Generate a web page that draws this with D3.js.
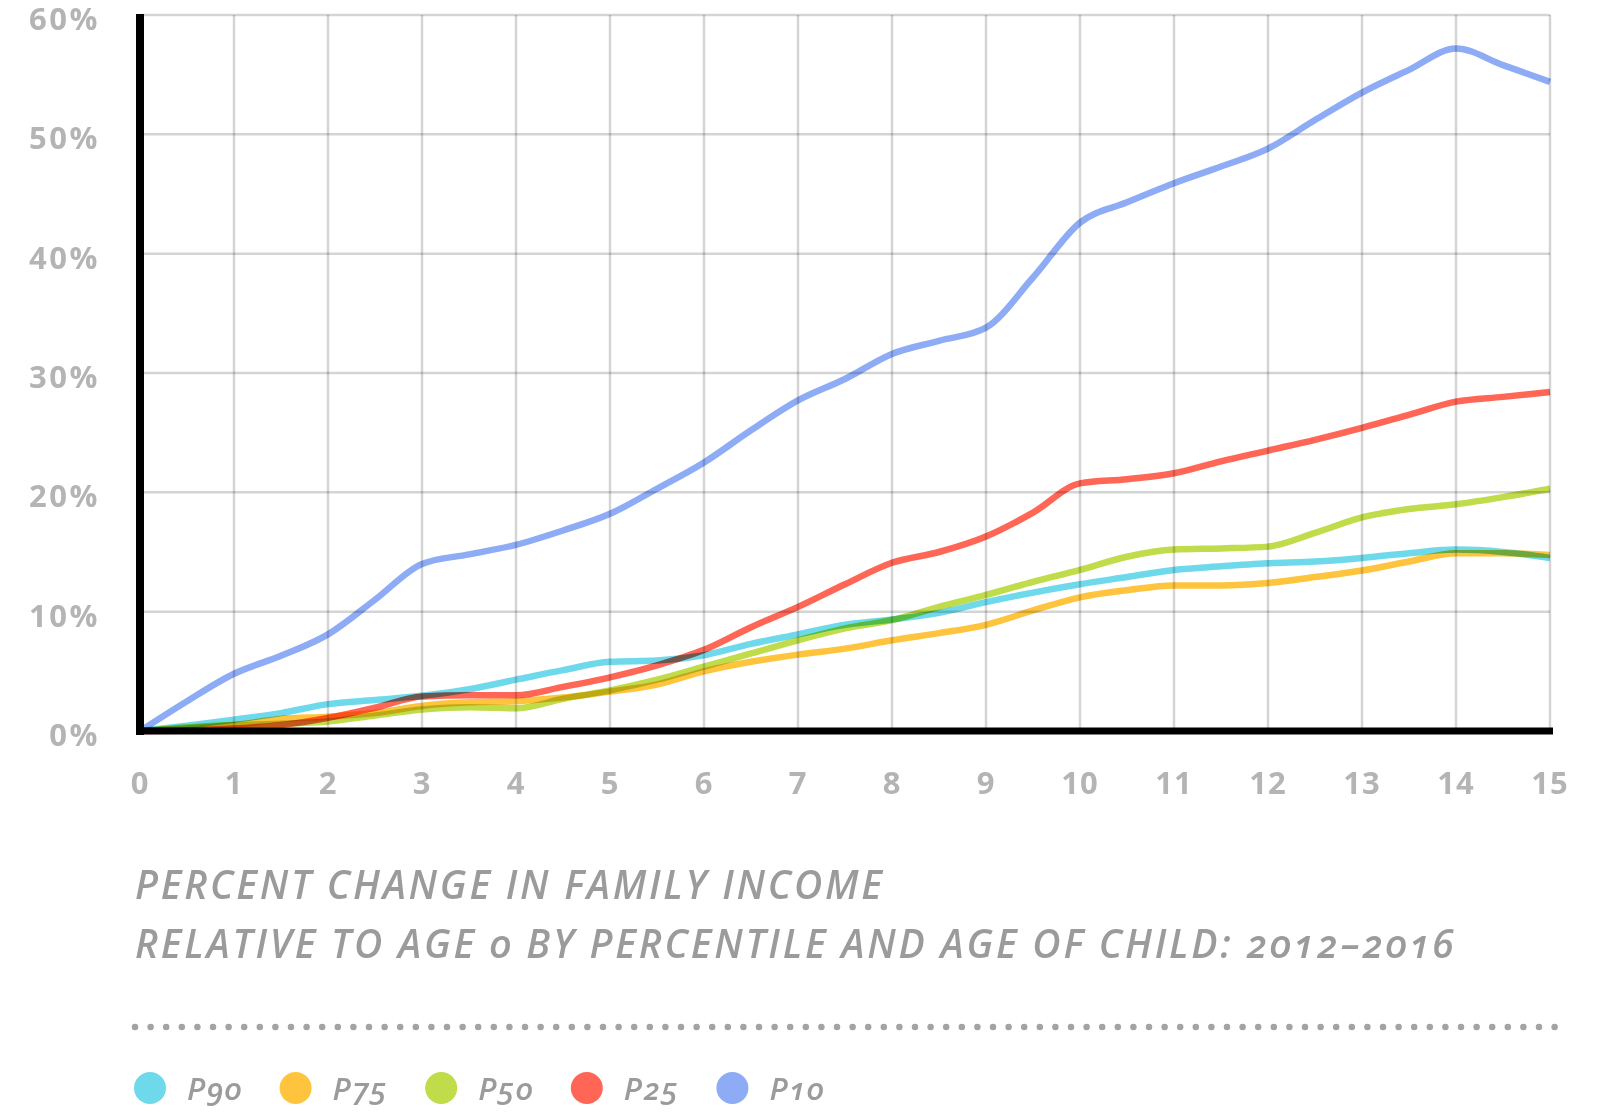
<!DOCTYPE html>
<html>
<head>
<meta charset="utf-8">
<script src="https://cdn.jsdelivr.net/npm/d3@7"></script>
<style>
  body { margin: 0; background: #fff; }
  svg { display: block; }
  .line { mix-blend-mode: multiply; }
</style>
</head>
<body>
<svg id="chart" width="1608" height="1116"></svg>
<script>
// idade da criança (anos)
const ages = [0, 0.5, 1, 1.5, 2, 2.5, 3, 3.5, 4, 4.5, 5, 5.5, 6, 6.5, 7, 7.5,
  8, 8.5, 9, 9.5, 10, 10.5, 11, 11.5, 12, 12.5, 13, 13.5, 14, 14.5, 15];

// variação percentual da renda familiar em relação à idade 0
const p90 = [0, 0.45, 0.95, 1.5, 2.25, 2.6, 2.95, 3.5, 4.3, 5.1, 5.8, 5.9, 6.35, 7.3, 8.1, 8.9,
  9.35, 9.9, 10.8, 11.6, 12.3, 12.9, 13.5, 13.8, 14.05, 14.2, 14.5, 14.9, 15.2, 15.0, 14.5];
const p75 = [0, 0.2, 0.5, 1.0, 1.2, 1.5, 2.1, 2.4, 2.5, 2.8, 3.3, 3.9, 5.0, 5.8, 6.4, 6.9,
  7.6, 8.2, 8.9, 10.1, 11.2, 11.8, 12.2, 12.2, 12.4, 12.9, 13.45, 14.2, 14.9, 14.9, 14.75];
const p50 = [0, 0.3, 0.5, 0.6, 0.8, 1.3, 1.8, 2.0, 1.9, 2.7, 3.4, 4.3, 5.4, 6.5, 7.6, 8.6,
  9.3, 10.4, 11.4, 12.5, 13.5, 14.6, 15.2, 15.3, 15.45, 16.6, 17.9, 18.6, 19.0, 19.6, 20.3];
const p25 = [0, 0.05, 0.2, 0.5, 1.1, 1.95, 2.9, 3.0, 3.0, 3.7, 4.5, 5.5, 6.8, 8.7, 10.4, 12.3,
  14.1, 15.0, 16.3, 18.3, 20.75, 21.1, 21.6, 22.6, 23.5, 24.4, 25.4, 26.5, 27.6, 28.0, 28.4];
const p10 = [0, 2.5, 4.8, 6.3, 8.1, 11.0, 14.0, 14.8, 15.6, 16.8, 18.2, 20.3, 22.5, 25.2, 27.7, 29.5,
  31.6, 32.7, 33.8, 38.0, 42.6, 44.3, 45.9, 47.3, 48.8, 51.2, 53.5, 55.4, 57.2, 55.8, 54.4];

const seriesNames = ["P90", "P75", "P50", "P25", "P10"];
const seriesValues = [p90, p75, p50, p25, p10];
const seriesColors = ["#6fd9ec", "#fec43d", "#c0dc4a", "#ff6655", "#8eacf5"];

const xTicks = [0, 1, 2, 3, 4, 5, 6, 7, 8, 9, 10, 11, 12, 13, 14, 15];
const yTicks = [0, 10, 20, 30, 40, 50, 60];

const titleLines = [
  "PERCENT CHANGE IN FAMILY INCOME",
  "RELATIVE TO AGE 0 BY PERCENTILE AND AGE OF CHILD: 2012–2016",
];

const margens = { left: 140, top: 15, right: 58, bottom: 385 };
const svg = d3.select("#chart");
const width = 1608 - margens.left - margens.right;
const height = 1116 - margens.top - margens.bottom;

const x = d3.scaleLinear().domain([0, 15]).range([0, width]);
const y = d3.scaleLinear().domain([0, 60]).range([height, 0]);

const g = svg.append("g").attr("transform", `translate(${margens.left},${margens.top})`);

// grade
g.append("g")
  .selectAll("line")
  .data(yTicks)
  .enter()
  .append("line")
  .attr("x1", 0)
  .attr("x2", width)
  .attr("y1", (d) => y(d))
  .attr("y2", (d) => y(d))
  .attr("stroke", "rgba(0,0,0,0.17)")
  .attr("stroke-width", 2.5);

g.append("g")
  .selectAll("line")
  .data(xTicks.filter((d) => d > 0))
  .enter()
  .append("line")
  .attr("x1", (d) => x(d))
  .attr("x2", (d) => x(d))
  .attr("y1", 0)
  .attr("y2", height)
  .attr("stroke", "rgba(0,0,0,0.17)")
  .attr("stroke-width", 2.5);

// linhas
const line = d3
  .line()
  .x((d, i) => x(ages[i]))
  .y((d) => y(d))
  .curve(d3.curveMonotoneX);

seriesValues.forEach((vals, i) => {
  g.append("path")
    .datum(vals)
    .attr("class", "line")
    .attr("fill", "none")
    .attr("stroke", seriesColors[i])
    .attr("stroke-width", 6.5)
    .attr("stroke-linejoin", "round")
    .attr("d", line);
});

// eixos pretos
g.append("line")
  .attr("x1", 0).attr("x2", 0)
  .attr("y1", y(60) - 1).attr("y2", height + 4)
  .attr("stroke", "#000").attr("stroke-width", 8);
g.append("line")
  .attr("x1", -4).attr("x2", width + 3)
  .attr("y1", height).attr("y2", height)
  .attr("stroke", "#000").attr("stroke-width", 7);

// rótulos do eixo Y
g.append("g")
  .selectAll("text")
  .data(yTicks)
  .enter()
  .append("text")
  .attr("x", -40)
  .attr("y", (d) => y(d) + 15)
  .attr("text-anchor", "end")
  .attr("font-family", "'Open Sans', sans-serif")
  .attr("font-weight", 700)
  .attr("font-size", 31)
  .attr("letter-spacing", 2.5)
  .attr("fill", "#b4b4b4")
  .text((d) => `${d}%`);

// rótulos do eixo X
g.append("g")
  .selectAll("text")
  .data(xTicks)
  .enter()
  .append("text")
  .attr("x", (d) => x(d))
  .attr("y", height + 63)
  .attr("text-anchor", "middle")
  .attr("font-family", "'Open Sans', sans-serif")
  .attr("font-weight", 700)
  .attr("font-size", 31)
  .attr("letter-spacing", 1)
  .attr("fill", "#b4b4b4")
  .text((d) => d);

// título
svg.append("g")
  .selectAll("text")
  .data(titleLines)
  .enter()
  .append("text")
  .attr("x", 135)
  .attr("y", (d, i) => 899 + i * 59)
  .attr("font-family", "'Open Sans', sans-serif")
  .attr("font-style", "italic")
  .attr("font-weight", 600)
  .attr("font-size", 39)
  .attr("letter-spacing", 2.8)
  .attr("fill", "#9b9b9b")
  .style("font-variant-numeric", "oldstyle-nums")
  .text((d) => d);

// linha pontilhada
svg.append("line")
  .attr("x1", 135).attr("x2", 1560)
  .attr("y1", 1027).attr("y2", 1027)
  .attr("stroke", "#a3a3a3")
  .attr("stroke-width", 6.5)
  .attr("stroke-linecap", "round")
  .attr("stroke-dasharray", "0 15.6");

// legenda
const legend = svg.append("g").attr("transform", "translate(150,1088)");
seriesNames.forEach((name, i) => {
  legend.append("circle")
    .attr("cx", i * 145.6)
    .attr("cy", 0)
    .attr("r", 16)
    .attr("fill", seriesColors[i]);
  legend.append("text")
    .attr("x", i * 145.6 + 37)
    .attr("y", 12)
    .attr("font-family", "'Open Sans', sans-serif")
    .attr("font-style", "italic")
    .attr("font-weight", 600)
    .attr("font-size", 31)
    .attr("letter-spacing", 1.5)
    .attr("fill", "#9b9b9b")
    .style("font-variant-numeric", "oldstyle-nums")
    .text(name);
});
</script>
</body>
</html>
